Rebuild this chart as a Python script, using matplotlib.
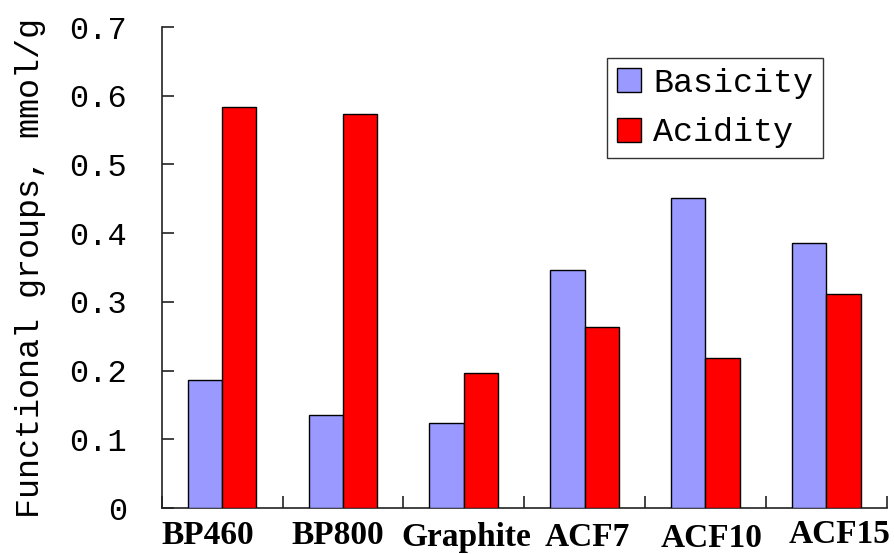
import matplotlib
matplotlib.use("Agg")
import matplotlib.pyplot as plt
from matplotlib.transforms import ScaledTranslation
import numpy as np

# Surface functional groups of the carbon samples (mmol/g)
categories = ["BP460", "BP800", "Graphite", "ACF7", "ACF10", "ACF15"]
basicity = [0.186, 0.136, 0.124, 0.346, 0.451, 0.386]
acidity = [0.583, 0.574, 0.196, 0.264, 0.219, 0.311]
yticks = [0, 0.1, 0.2, 0.3, 0.4, 0.5, 0.6, 0.7]
ytick_labels = ["0", "0.1", "0.2", "0.3", "0.4", "0.5", "0.6", "0.7"]

MONO = "Liberation Mono"
SERIF = "Liberation Serif"
BLUE = "#9999FF"
RED = "#FF0000"
AXIS_COLOR = "#222222"

fig = plt.figure(figsize=(8.94, 5.54), dpi=100)
ax = fig.add_axes([0.1809, 0.0830, 0.8109, 0.8682])

x = np.arange(len(categories))
w = 0.284
ax.bar(x - w / 2, basicity, w, color=BLUE, edgecolor="black", linewidth=1.0,
       label="Basicity", zorder=3)
ax.bar(x + w / 2, acidity, w, color=RED, edgecolor="black", linewidth=1.0,
       label="Acidity", zorder=3)

ax.set_xlim(-0.5, len(categories) - 0.5)
ax.set_ylim(0, 0.7)

for side in ("top", "right"):
    ax.spines[side].set_visible(False)
for side in ("left", "bottom"):
    ax.spines[side].set_color(AXIS_COLOR)
    ax.spines[side].set_linewidth(1.2)

# y axis: inward ticks, monospaced labels
ax.set_yticks(yticks)
ax.set_yticklabels(ytick_labels, fontfamily=MONO, fontsize=23)
ax.tick_params(axis="y", direction="in", length=8.6, width=1.2,
               color=AXIS_COLOR, pad=25)

# x axis: tick marks at category boundaries, names centred beneath
ax.set_xticks(np.arange(len(categories) + 1) - 0.5)
ax.set_xticklabels([])
ax.tick_params(axis="x", which="major", direction="in", length=8.6,
               width=1.2, color=AXIS_COLOR)
ax.set_xticks(x, minor=True)
ax.set_xticklabels(categories, minor=True, fontfamily=SERIF,
                   fontweight="bold", fontsize=24)
ax.tick_params(axis="x", which="minor", length=0, pad=8.5)

# slight hand placement of the category names (pixels: right, down)
nudges = [(-14, 0), (-5, 0), (3, 2), (3, 2.5), (6, 3), (13, -1)]
for lab, (dx, dy) in zip(ax.get_xticklabels(minor=True), nudges):
    lab.set_transform(lab.get_transform() +
                      ScaledTranslation(dx / 100, -dy / 100, fig.dpi_scale_trans))

ax.set_ylabel("Functional groups, mmol/g", fontfamily=MONO, fontsize=24)
ax.yaxis.label.set_va("center")
ax.yaxis.set_label_coords(-0.1817, 0.5)

leg = ax.legend(loc="upper left", bbox_to_anchor=(0.6142, 0.9356),
                borderaxespad=0, prop={"family": MONO, "size": 24},
                frameon=True, fancybox=False, shadow=False,
                handlelength=0.72, handleheight=0.72, handletextpad=0.36,
                borderpad=0.3, labelspacing=0.55)
leg.get_frame().set_edgecolor("black")
leg.get_frame().set_linewidth(1.0)
for h in leg.legend_handles:
    h.set_linewidth(1.0)

fig.savefig("out.png", dpi=100)
